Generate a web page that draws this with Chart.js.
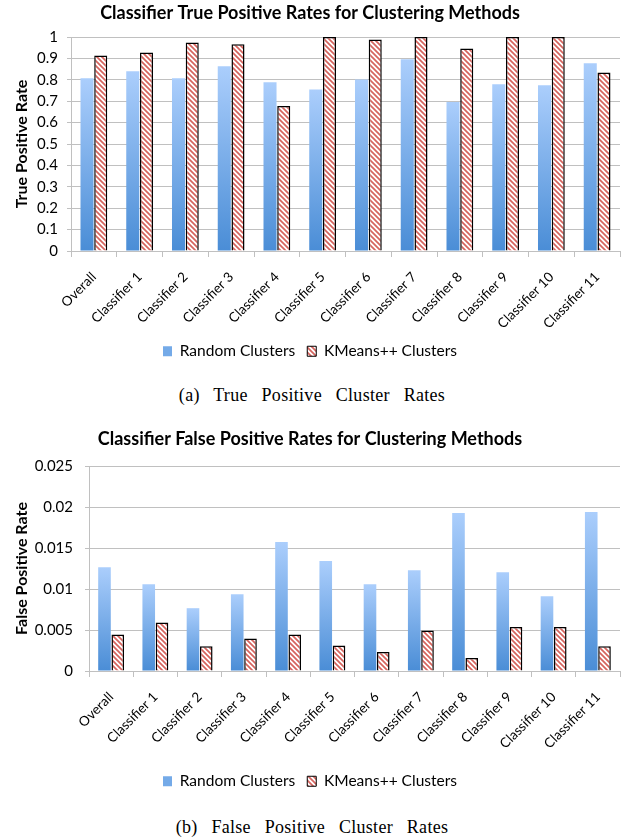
<!DOCTYPE html>
<html><head><meta charset="utf-8">
<script src="https://cdn.jsdelivr.net/npm/chart.js@4.4.0/dist/chart.umd.min.js"></script>
<style>
html,body{margin:0;padding:0;background:#fff}
body{width:624px;height:840px;position:relative;overflow:hidden;font-family:Lato}
#wa{position:absolute;left:0;top:0;width:624px;height:369px}
#wb{position:absolute;left:0;top:418px;width:624px;height:381px}
.cap{position:absolute;left:0;width:624px;text-align:center;font-family:"Liberation Serif";font-size:18px;word-spacing:9px;letter-spacing:0.3px;color:#000;line-height:22px}
</style></head><body>
<div id="wa"><canvas id="ca"></canvas></div>
<div class="cap" style="top:384px">(a) True Positive Cluster Rates</div>
<div id="wb"><canvas id="cb"></canvas></div>
<div class="cap" style="top:816px">(b) False Positive Cluster Rates</div>
<script>
const categories = ["Overall","Classifier 1","Classifier 2","Classifier 3","Classifier 4","Classifier 5","Classifier 6","Classifier 7","Classifier 8","Classifier 9","Classifier 10","Classifier 11"];
const seriesNames = ["Random Clusters","KMeans++ Clusters"];
const tpRandom = [0.807,0.840,0.807,0.863,0.788,0.755,0.801,0.896,0.696,0.779,0.774,0.877];
const tpKMeans = [0.914,0.927,0.974,0.966,0.678,1.000,0.988,1.000,0.946,1.000,1.000,0.834];
const fpRandom = [0.01266,0.01059,0.00766,0.00937,0.01572,0.01340,0.01059,0.01230,0.01926,0.01205,0.00912,0.01938];
const fpKMeans = [0.00444,0.00591,0.00302,0.00396,0.00444,0.00310,0.00232,0.00493,0.00159,0.00537,0.00537,0.00302];
const tpTickLabels = ["0","0.1","0.2","0.3","0.4","0.5","0.6","0.7","0.8","0.9","1"];
const fpTickLabels = ["0","0.005","0.01","0.015","0.02","0.025"];

const GRID = '#c0c0c0';

function blueGrad(ctx){
  const chart = ctx.chart;
  if(!chart.chartArea || ctx.type !== 'data') return '#72a9e8';
  const y = chart.scales.y;
  const top = y.getPixelForValue(ctx.raw), base = y.getPixelForValue(0);
  if(!isFinite(top) || !isFinite(base) || top === base) return '#72a9e8';
  const g = chart.ctx.createLinearGradient(0, top, 0, base);
  g.addColorStop(0,'#abcefc');
  g.addColorStop(1,'#4a8dd6');
  return g;
}
function makeHatch(){
  const s = 5;
  const c = document.createElement('canvas'); c.width = s; c.height = s;
  const g = c.getContext('2d');
  g.fillStyle = '#fff'; g.fillRect(0,0,s,s);
  g.strokeStyle = '#d6645e'; g.lineWidth = 1.7;
  g.beginPath();
  g.moveTo(-s,-s); g.lineTo(2*s,2*s);
  g.moveTo(-s,0); g.lineTo(s,2*s);
  g.moveTo(0,-s); g.lineTo(2*s,s);
  g.stroke();
  return document.createElement('canvas').getContext('2d').createPattern(c,'repeat');
}
const hatch = makeHatch();

function makeChart(id, rnd, km, opts){
  return new Chart(document.getElementById(id), {
    type:'bar',
    data:{labels:categories, datasets:[
      {label:seriesNames[0], data:rnd, backgroundColor:blueGrad, borderWidth:0,
       categoryPercentage:0.6, barPercentage:0.95},
      {label:seriesNames[1], data:km, backgroundColor:hatch, borderColor:'#000', borderWidth:1.5,
       categoryPercentage:0.6, barPercentage:0.95}
    ]},
    options:{
      responsive:true, maintainAspectRatio:false, animation:false,
      layout:{padding:{left:0,right:4,top:0,bottom:0}},
      plugins:{
        title:{display:true, text:opts.title, color:'#000',
          font:{family:'Lato', size:18, weight:'bold'}, padding:{top:opts.titleTop,bottom:opts.titleGap}},
        legend:{position:'bottom',
          labels:{color:'#000', font:{family:'Lato', size:15.5}, boxWidth:9, boxHeight:10, padding:12,
            generateLabels(chart){
              const items = Chart.defaults.plugins.legend.labels.generateLabels(chart);
              items[0].fillStyle = '#74aae8'; items[0].lineWidth = 0; items[0].strokeStyle='rgba(0,0,0,0)';
              items[1].fillStyle = hatch; items[1].strokeStyle = '#000'; items[1].lineWidth = 1;
              return items;
            }}},
        tooltip:{enabled:false}
      },
      scales:{
        x:{
          grid:{display:true, offset:true, drawOnChartArea:false, drawTicks:true, tickLength:6, color:GRID},
          border:{display:true, color:GRID},
          ticks:{autoSkip:false, maxRotation:45, minRotation:45, color:'#000',
            font:{family:'Lato', size:13.5}, padding:12, labelOffset:0},
          afterFit(s){ s.height = opts.xHeight; }
        },
        y:{
          min:0, max:opts.max,
          grid:{color:GRID, tickLength:4, drawTicks:true},
          border:{display:true, color:GRID},
          ticks:{stepSize:opts.step, color:'#000', font:{family:'Lato', size:15}, padding:opts.tickPad,
            callback:(v,i)=>opts.tickLabels[i]},
          title:{display:true, text:opts.ytitle, color:'#000', font:{family:'Lato', size:16, weight:'bold'},
            padding:{top:12.4,bottom:0}},
          afterFit(s){ s.width = opts.yWidth; }
        }
      }
    }
  });
}

makeChart('ca', tpRandom, tpKMeans, {title:'Classifier True Positive Rates for Clustering Methods',
  titleTop:2.2, titleGap:13.2, max:1, step:0.1, tickLabels:tpTickLabels, ytitle:'True Positive Rate', yWidth:71, tickPad:9,
  xHeight:80.5});
makeChart('cb', fpRandom, fpKMeans, {title:'Classifier False Positive Rates for Clustering Methods',
  titleTop:10.2, titleGap:16.2, max:0.025, step:0.005, tickLabels:fpTickLabels, ytitle:'False Positive Rate', yWidth:89, tickPad:12,
  xHeight:90.5});
</script>
</body></html>
